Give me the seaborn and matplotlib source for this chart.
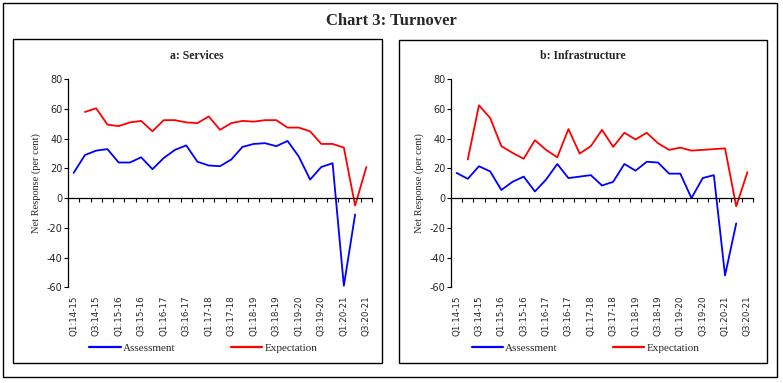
import numpy as np
import pandas as pd
import seaborn as sns
import matplotlib.pyplot as plt
from matplotlib.patches import Rectangle
from matplotlib.lines import Line2D

# ---------------- DATA ------------------
quarters = ["Q1:14-15", "Q2:14-15", "Q3:14-15", "Q4:14-15",
            "Q1:15-16", "Q2:15-16", "Q3:15-16", "Q4:15-16",
            "Q1:16-17", "Q2:16-17", "Q3:16-17", "Q4:16-17",
            "Q1:17-18", "Q2:17-18", "Q3:17-18", "Q4:17-18",
            "Q1:18-19", "Q2:18-19", "Q3:18-19", "Q4:18-19",
            "Q1:19-20", "Q2:19-20", "Q3:19-20", "Q4:19-20",
            "Q1:20-21", "Q2:20-21", "Q3:20-21"]

services_assessment = [17, 29, 32, 33, 24, 24, 27.5, 19.5, 27, 32.5, 35.5, 24.5, 22, 21.5,
                       26, 34.5, 36.5, 37, 35, 38.5, 28, 12.5, 21, 23.5, -59, -11, np.nan]
services_expectation = [np.nan, 58, 60.5, 49.5, 48.5, 51, 52, 45, 52.5, 52.5, 51, 50.5, 55, 46,
                        50.5, 52, 51.5, 52.5, 52.5, 47.5, 47.5, 45, 36.5, 36.5, 34, -5, 21]

infra_assessment = [17, 13, 21.5, 18, 5.5, 11, 14.5, 4.5, 12.5, 23, 13.5, 14.5, 15.5, 8.5,
                    11, 23, 18.5, 24.5, 24, 16.5, 16.5, 0, 13.5, 15.5, -52, -17, np.nan]
infra_expectation = [np.nan, 26, 62.5, 54, 35, 30.5, 26.5, 39, 32.5, 27.5, 46.5, 30, 35, 46,
                     34.5, 44, 39.5, 44, 37, 32.5, 34, 32, 32.5, 33, 33.5, -5.5, 17.5]

panels = [("a: Services", services_assessment, services_expectation),
          ("b: Infrastructure", infra_assessment, infra_expectation)]

BLUE = "#0000FF"
RED = "#FF0000"

# ---------------- STYLE ------------------
sns.set_style("ticks")
plt.rcParams["font.family"] = ["Liberation Serif", "DejaVu Serif"]
plt.rcParams["axes.unicode_minus"] = False

fig = plt.figure(figsize=(7.83, 3.83), dpi=100)
W, H = 783, 383

def fx(px):
    return px / W

def fy(py):
    return (H - py) / H

# frames
fig.patches.append(Rectangle((fx(3), fy(377)), fx(774), 374 / H, transform=fig.transFigure,
                             fill=False, edgecolor="black", lw=1.0))
fig.patches.append(Rectangle((fx(13), fy(363)), fx(369), 324 / H, transform=fig.transFigure,
                             fill=False, edgecolor="black", lw=1.0))
fig.patches.append(Rectangle((fx(399), fy(363)), fx(368), 323 / H, transform=fig.transFigure,
                             fill=False, edgecolor="black", lw=1.0))

fig.text(fx(391), fy(21), "Chart 3: Turnover", ha="center", va="center",
         fontsize=12, fontweight="bold")

axes_px = [(68, 372), (451, 753)]
title_x = [197, 583]
x = np.arange(len(quarters))

for (title, assess, expect), (x0, x1), tx in zip(panels, axes_px, title_x):
    ax = fig.add_axes([fx(x0), fy(287.3), fx(x1 - x0), 208 / H])
    df = pd.DataFrame({"pos": x, "Assessment": assess, "Expectation": expect})
    sns.lineplot(data=df, x="pos", y="Assessment", color=BLUE, lw=1.3, ax=ax)
    sns.lineplot(data=df, x="pos", y="Expectation", color=RED, lw=1.3, ax=ax)

    ax.set_xlim(-0.5, len(quarters) - 0.5)
    ax.set_ylim(-60, 80)
    ax.set_yticks(np.arange(-60, 81, 20))
    ax.set_xlabel("")
    ax.set_ylabel("Net Response (per cent)", fontsize=7.5, labelpad=4)

    for s in ["top", "right"]:
        ax.spines[s].set_visible(False)
    ax.spines["bottom"].set_position(("data", 0))
    for s in ["left", "bottom"]:
        ax.spines[s].set_linewidth(0.9)
        ax.spines[s].set_color("black")

    ax.set_xticks(x[::2])
    ax.set_xticklabels(quarters[::2], rotation=90, fontsize=6.3, family="DejaVu Sans")
    ax.set_xticks(np.arange(-0.5, len(quarters), 1), minor=True)
    ax.tick_params(axis="x", which="major", bottom=True, length=0, pad=70)
    ax.tick_params(axis="x", which="minor", bottom=True, length=3, direction="out",
                   width=0.8, color="black")
    ax.tick_params(axis="y", which="major", left=True, length=3, direction="out",
                   width=0.8, color="black", pad=1, labelsize=7)
    for lab in ax.get_yticklabels():
        lab.set_family("DejaVu Sans")

    fig.text(fx(tx), fy(56), title, ha="center", va="center", fontsize=8.5, fontweight="bold")

    handles = [Line2D([], [], color=BLUE, lw=1.6), Line2D([], [], color=RED, lw=1.6)]
    ax.legend(handles, ["Assessment", "Expectation"], loc="center",
              bbox_to_anchor=(0.445, -0.292), ncol=2, frameon=False, fontsize=8,
              handlelength=2.8, handletextpad=0.2, columnspacing=5.0)

fig.savefig("out.png", dpi=100)
